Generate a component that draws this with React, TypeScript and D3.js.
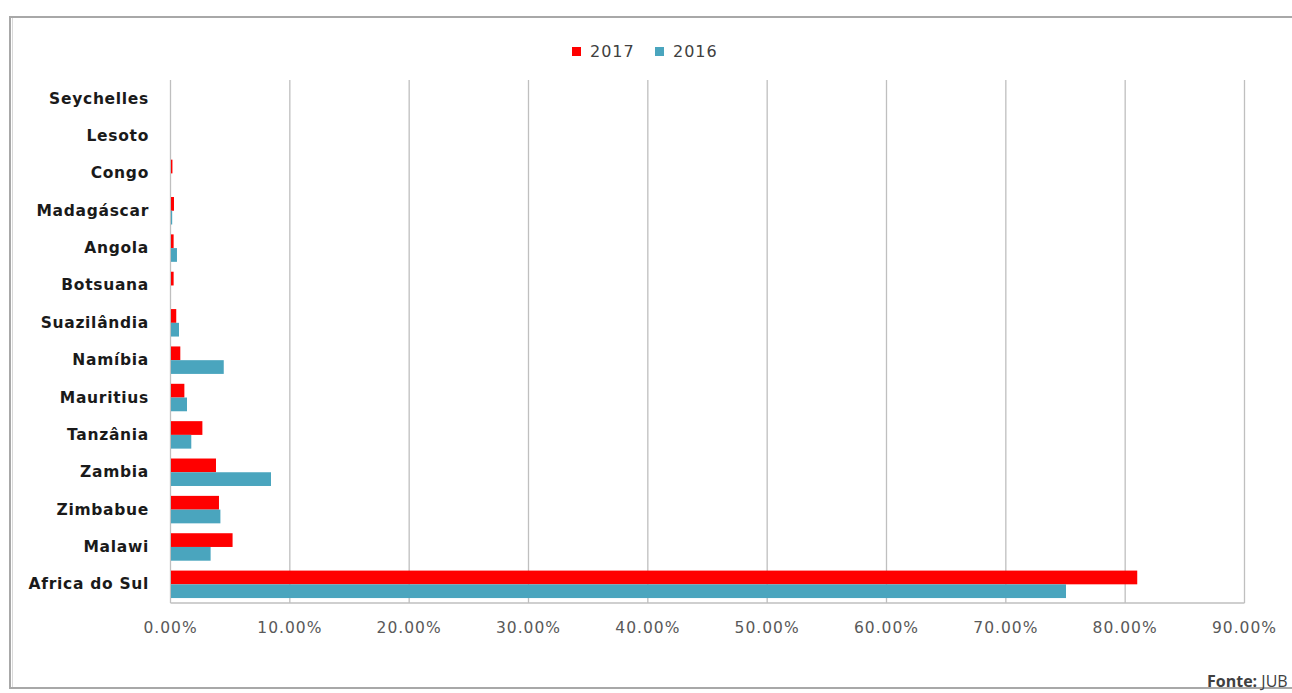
import React from "react";
import * as d3 from "d3";

const categories = [
  "Seychelles", "Lesoto", "Congo", "Madagáscar", "Angola", "Botsuana", "Suazilândia",
  "Namíbia", "Mauritius", "Tanzânia", "Zambia", "Zimbabue", "Malawi", "Africa do Sul",
];
const values2017 = [0, 0, 0.12, 0.25, 0.22, 0.22, 0.44, 0.78, 1.12, 2.63, 3.77, 4.02, 5.16, 80.97];
const values2016 = [0, 0, 0, 0.1, 0.5, 0, 0.67, 4.42, 1.34, 1.7, 8.38, 4.14, 3.32, 75.0];
const xTicks = [0, 10, 20, 30, 40, 50, 60, 70, 80, 90];
const seriesNames = ["2017", "2016"];
const seriesColors = ["#FF0000", "#4AA5BE"];

const W = 1292;
const H = 693;
const plot = { left: 170.5, right: 1244.5, top: 80, bottom: 603 };

export default function App() {
  const x = d3.scaleLinear().domain([0, 90]).range([plot.left, plot.right]);
  const y = d3.scaleBand<string>().domain(categories).range([plot.top, plot.bottom]).paddingInner(0).paddingOuter(0);
  const inner = d3.scaleBand<string>().domain(seriesNames).range([0, y.bandwidth()]).paddingInner(0).paddingOuter(0.36);
  const series = [values2017, values2016];
  const fmt = (v: number) => d3.format(".2f")(v) + "%";
  const labelFont = "'DejaVu Sans', Verdana, sans-serif";

  return (
    <svg width={W} height={H} style={{ position: "absolute", left: 0, top: 0, background: "#fff" }}>
      <rect x={0} y={0} width={W} height={H} fill="#fff" />
      <rect x={10} y={17} width={W + 20} height={671} fill="none" stroke="#a8a8a8" strokeWidth={2} />
      <line x1={12.5} x2={12.5} y1={18} y2={687} stroke="#d9d9d9" strokeWidth={1} />

      {/* legend */}
      {seriesNames.map((s, i) => {
        const lx = 572 + i * 83;
        return (
          <g key={s}>
            <rect x={lx} y={47} width={9} height={9} fill={seriesColors[i]} />
            <text x={lx + 18} y={57} fontFamily={labelFont} fontSize={16} letterSpacing={1} fill="#404040">{s}</text>
          </g>
        );
      })}

      {/* gridlines */}
      {xTicks.map((t) => (
        <line key={t} x1={x(t)} x2={x(t)} y1={plot.top} y2={plot.bottom} stroke="#bfbfbf" strokeWidth={1.3} />
      ))}
      <line x1={plot.left} x2={plot.right} y1={plot.bottom} y2={plot.bottom} stroke="#bfbfbf" strokeWidth={1.3} />

      {/* bars */}
      {categories.map((c, ci) => (
        <g key={c}>
          {series.map((vals, si) => {
            const v = vals[ci];
            if (v <= 0) return null;
            return (
              <rect
                key={si}
                x={x(0) + 0.5}
                y={(y(c) as number) + (inner(seriesNames[si]) as number)}
                width={Math.max(0, x(v) - x(0))}
                height={inner.bandwidth()}
                fill={seriesColors[si]}
              />
            );
          })}
        </g>
      ))}

      {/* category labels */}
      {categories.map((c) => (
        <text
          key={c}
          x={149}
          y={(y(c) as number) + y.bandwidth() / 2 + 5}
          textAnchor="end"
          fontFamily={labelFont}
          fontWeight="bold"
          fontSize={15.5}
          letterSpacing={0.7}
          fill="#1a1a1a"
        >
          {c}
        </text>
      ))}

      {/* x tick labels */}
      {xTicks.map((t) => (
        <text
          key={t}
          x={x(t)}
          y={633}
          textAnchor="middle"
          fontFamily={labelFont}
          fontSize={15.5}
          letterSpacing={1}
          fill="#595959"
        >
          {fmt(t)}
        </text>
      ))}

      {/* source */}
      <text x={1207} y={687} fontFamily={"'Open Sans', sans-serif"} fontSize={16} fill="#404040">
        <tspan fontWeight="bold">Fonte:</tspan>
        <tspan> JUB</tspan>
      </text>
    </svg>
  );
}
